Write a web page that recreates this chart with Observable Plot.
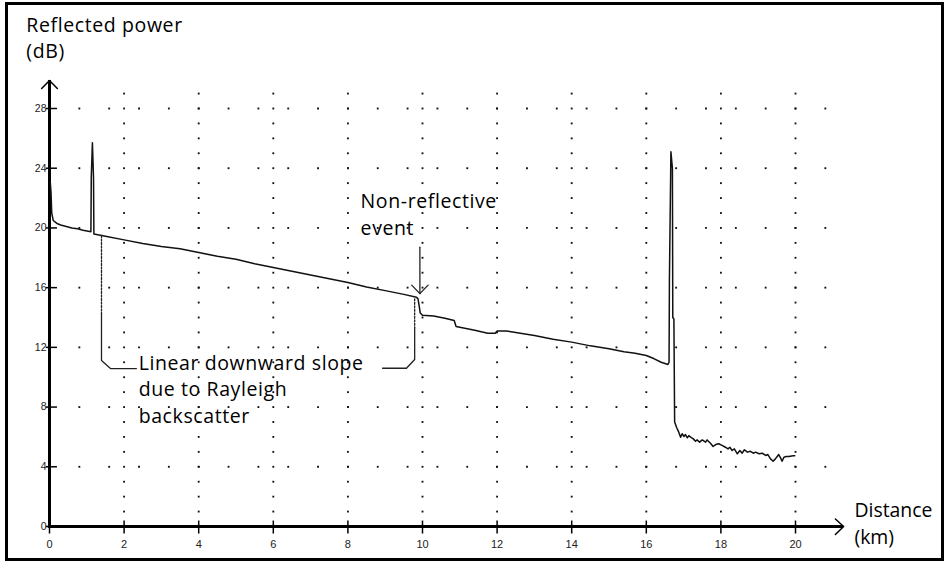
<!DOCTYPE html>
<html><head><meta charset="utf-8">
<script src="https://cdn.jsdelivr.net/npm/d3@7"></script>
<script src="https://cdn.jsdelivr.net/npm/@observablehq/plot@0.6"></script>
<style>html,body{margin:0;padding:0;background:#fff;} #chart svg{display:block;}</style>
</head><body><div id="chart"></div>
<script>
// OTDR trace: distance (km) and reflected power (dB)
const traceKm = [0.02,0.04,0.06,0.1,0.2,0.3,0.45,0.6,0.75,0.9,1.11,1.12,1.15,1.18,1.19,1.5,2.0,2.5,3.0,3.5,4.0,4.5,5.0,5.5,6.0,6.5,7.0,7.5,8.0,8.5,9.0,9.5,9.84,9.88,9.91,9.94,10.0,10.3,10.6,10.85,10.9,11.1,11.4,11.75,11.95,12.0,12.25,12.5,12.75,13.0,13.5,14.0,14.5,15.0,15.4,15.7,16.0,16.2,16.4,16.58,16.61,16.62,16.66,16.70,16.71,16.74,16.76,16.81,16.87,16.92,16.96,17.01,17.05,17.1,17.14,17.19,17.26,17.32,17.36,17.43,17.5,17.59,17.63,17.72,17.79,17.86,17.94,18.03,18.12,18.19,18.24,18.3,18.36,18.44,18.51,18.57,18.63,18.71,18.79,18.87,18.93,19.02,19.11,19.2,19.26,19.33,19.4,19.46,19.51,19.55,19.6,19.64,19.69,19.75,19.82,19.94,19.98];
const traceDb = [23.1,22.4,21.0,20.5,20.3,20.2,20.1,20.0,19.95,19.85,19.75,23.4,25.7,23.4,19.6,19.45,19.2,18.95,18.75,18.6,18.35,18.1,17.9,17.6,17.35,17.1,16.85,16.6,16.35,16.05,15.8,15.55,15.35,15.25,14.8,14.3,14.15,14.1,13.95,13.8,13.4,13.3,13.15,12.95,12.95,13.1,13.1,13.0,12.9,12.8,12.55,12.35,12.1,11.9,11.7,11.6,11.45,11.25,11.0,10.85,11.0,16.6,25.1,24.0,14.0,13.9,7.0,6.65,6.32,5.98,6.21,6.03,6.16,5.94,6.09,5.98,5.87,5.71,5.8,5.65,5.8,5.65,5.8,5.58,5.36,5.49,5.54,5.43,5.31,5.2,5.31,5.09,5.2,4.87,5.09,4.91,5.14,4.98,5.04,4.91,4.98,4.87,4.91,4.76,4.82,4.53,4.37,4.53,4.69,4.82,4.6,4.37,4.64,4.69,4.69,4.74,4.74];
const xTicks = [0,2,4,6,8,10,12,14,16,18,20];
const yTicks = [0,4,8,12,16,20,24,28];
const yTitle = ["Reflected power","(dB)"];
const xTitle = ["Distance","(km)"];
const eventLabel = ["Non-reflective","event"];
const slopeLabel = ["Linear downward slope","due to Rayleigh","backscatter"];

const trace = traceKm.map((k,i)=>({km:k, db:traceDb[i]}));

// dotted grid (minor positions)
const vDots = [];
xTicks.slice(1).forEach(x => d3.range(1,30).forEach(y => vDots.push([x,y])));
const hDots = [];
yTicks.slice(1).forEach(y => d3.range(1,27).forEach(i => hDots.push([+(i*0.8).toFixed(2), y])));

// annotation geometry (data units)
const leftDotted = [[1.394,19.5],[1.394,14.27]];
const leftSolid = [[1.394,14.27],[1.394,11.12],[1.635,10.58],[2.33,10.58]];
const rightDotted = [[9.79,15.25],[9.79,13.33]];
const rightSolid = [[9.79,13.33],[9.79,11.19],[9.57,10.6],[8.93,10.6]];
const eventShaft = [[9.93,18.71],[9.93,15.6]];
const eventHead = [[9.71,16.17],[9.93,15.6],[10.15,16.17]];
const yArrow = [[-0.21,29.34],[0,29.87],[0.21,29.34]];
const xArrow = [[21.07,0.5],[21.29,0],[21.07,-0.54]];

const font = "'Open Sans', sans-serif";
const tickFont = "'Liberation Sans', Arial, sans-serif";
const fx = d => d[0], fy = d => d[1];
const labelOpts = {text: d=>d, textAnchor: "start", lineAnchor: "top", fontSize: 19.5, lineHeight: 1.365, fill: "#000"};

const plot = Plot.plot({
  width: 946, height: 561,
  marginLeft: 49, marginRight: 151, marginTop: 108, marginBottom: 35,
  x: {domain: [0,20], axis: null},
  y: {domain: [0,28], axis: null},
  style: {background: "#fff", fontFamily: font, overflow: "visible"},
  marks: [
    Plot.dot(vDots, {x: fx, y: fy, symbol: "square", r: 1.05, fill: "#111", stroke: "none"}),
    Plot.dot(hDots, {x: fx, y: fy, symbol: "square", r: 1.05, fill: "#111", stroke: "none"}),
    // axes
    Plot.ruleX([0], {y1: 0, y2: 29.87, stroke: "#000", strokeWidth: 3}),
    Plot.ruleY([0], {x1: -0.03, x2: 21.29, stroke: "#000", strokeWidth: 3}),
    Plot.line(yArrow, {x: fx, y: fy, stroke: "#000", strokeWidth: 1.5}),
    Plot.line(xArrow, {x: fx, y: fy, stroke: "#000", strokeWidth: 1.5}),
    Plot.link(yTicks, {x1: -0.1, x2: 0.2, y1: d=>d, y2: d=>d, stroke: "#000", strokeWidth: 1.5}),
    Plot.link(xTicks, {x1: d=>d, x2: d=>d, y1: 0.4, y2: -0.47, stroke: "#000", strokeWidth: 1.5}),
    Plot.text(yTicks, {x: 0, y: d=>d, text: d=>String(d), textAnchor: "end", dx: -3, fontSize: 10.5, fontFamily: tickFont, fill: "#222"}),
    Plot.text(xTicks, {x: d=>d, y: 0, text: d=>String(d), dy: 18, fontSize: 11, fontFamily: tickFont, fill: "#222"}),
    // trace
    Plot.line(trace, {x: "km", y: "db", stroke: "#111", strokeWidth: 1.5}),
    // annotations
    Plot.line(leftDotted, {x: fx, y: fy, stroke: "#222", strokeWidth: 1.3, strokeDasharray: "2,1.5"}),
    Plot.line(rightDotted, {x: fx, y: fy, stroke: "#222", strokeWidth: 1.3, strokeDasharray: "2,1.5"}),
    Plot.line(leftSolid, {x: fx, y: fy, stroke: "#222", strokeWidth: 1.3}),
    Plot.line(rightSolid, {x: fx, y: fy, stroke: "#222", strokeWidth: 1.3}),
    Plot.line(eventShaft, {x: fx, y: fy, stroke: "#222", strokeWidth: 1.3}),
    Plot.line(eventHead, {x: fx, y: fy, stroke: "#222", strokeWidth: 1.3}),
    // titles and labels
    Plot.text([yTitle.join("\n")], {...labelOpts, x: -0.62, y: 34.42}),
    Plot.text([xTitle.join("\n")], {...labelOpts, x: 21.58, y: 1.87, fontSize: 19.4}),
    Plot.text([eventLabel.join("\n")], {...labelOpts, x: 8.34, y: 22.57}),
    Plot.text([slopeLabel.join("\n")], {...labelOpts, x: 2.39, y: 11.78})
  ]
});

// slightly looser tracking for the annotation labels, as in the reference
d3.select(plot).selectAll('g[aria-label="text"]')
  .filter(function() { return this.getAttribute("font-size") === "19.5"; })
  .attr("letter-spacing", "0.6px");

d3.select(plot).append("rect")
  .attr("x", 6.5).attr("y", 3.5).attr("width", 936).attr("height", 556)
  .attr("fill", "none").attr("stroke", "#000").attr("stroke-width", 3);

document.getElementById("chart").appendChild(plot);
</script>
</body></html>
